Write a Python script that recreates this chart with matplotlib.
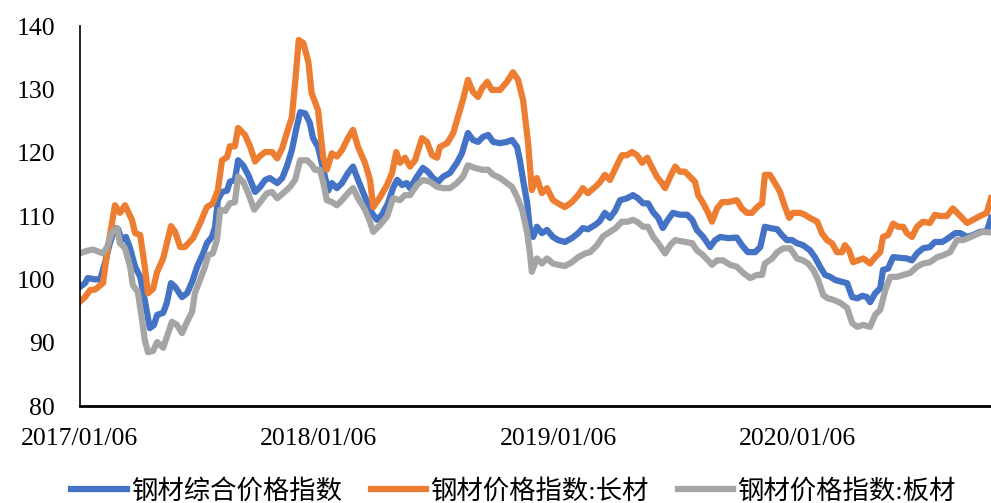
import matplotlib
matplotlib.use("Agg")
import matplotlib.pyplot as plt

# weeks counted from 2017/01/06
tick_weeks = [0, 52, 104, 156]
tick_labels = ["2017/01/06", "2018/01/06", "2019/01/06", "2020/01/06"]

# 钢材综合价格指数
comp_w = [0.0, 1.1, 1.7, 3.3, 4.4, 5.4, 6.5, 7.6, 8.3, 9.1, 10.0, 10.9, 12.0, 13.1, 14.1, 15.2, 16.1, 16.8,
          18.1, 18.9, 19.8, 20.7, 22.2, 23.3, 24.4, 25.5, 26.8, 27.6, 28.7, 29.4, 30.0, 30.9, 32.0, 32.6,
          33.7, 34.4, 35.5, 36.6, 38.1, 39.2, 40.3, 41.3, 42.9, 44.0, 45.0, 46.1, 47.0, 47.9, 49.0, 50.0,
          50.7, 51.8, 53.3, 54.0, 54.8, 55.9, 57.0, 58.3, 59.4, 60.5, 62.0, 63.5, 64.6, 65.7, 67.0, 68.1,
          69.0, 70.1, 71.1, 71.8, 73.3, 74.6, 75.7, 76.8, 77.9, 79.0, 80.5, 82.0, 83.1, 84.4, 85.5, 86.6,
          87.7, 88.8, 89.9, 91.4, 92.9, 94.0, 95.1, 95.7, 96.4, 97.3, 97.9, 98.6, 99.4, 100.5, 101.6,
          102.9, 104.0, 105.5, 107.0, 108.4, 109.4, 110.5, 112.1, 113.1, 114.2, 115.3, 116.4, 117.5,
          119.0, 120.3, 121.4, 122.5, 123.6, 124.7, 125.8, 126.8, 127.9, 129.0, 130.5, 132.1, 133.2,
          134.2, 135.6, 137.1, 138.2, 139.3, 141.0, 142.9, 144.0, 145.3, 146.9, 148.0, 149.0, 150.1,
          151.7, 152.7, 153.8, 154.9, 156.0, 157.3, 158.8, 159.9, 161.0, 162.1, 163.2, 164.3, 165.8,
          166.9, 168.0, 169.1, 170.2, 171.2, 171.9, 173.0, 174.1, 174.7, 175.8, 176.9, 178.4, 179.9,
          181.0, 182.1, 183.4, 184.9, 186.0, 187.6, 188.9, 190.4, 191.5, 193.0, 194.3, 195.8, 197.3, 198.2]
comp_v = [98.8, 99.4, 100.2, 100.0, 100.0, 102.5, 105.7, 108.1, 107.9, 106.2, 106.7, 104.9, 102.0, 100.4,
          96.7, 92.3, 92.8, 94.4, 94.7, 96.3, 99.4, 98.8, 97.2, 97.8, 99.6, 102.0, 104.1, 105.7, 106.7,
          108.3, 112.5, 113.8, 114.0, 115.4, 115.7, 118.8, 118.0, 116.5, 113.8, 114.6, 115.7, 116.0,
          115.2, 116.0, 117.8, 120.4, 123.6, 126.4, 126.2, 124.7, 122.3, 120.9, 116.2, 114.0, 115.2,
          114.4, 115.2, 116.8, 117.8, 115.7, 113.0, 110.5, 109.4, 110.2, 112.0, 114.4, 115.7, 114.9,
          115.2, 114.4, 116.2, 117.6, 117.0, 116.0, 115.4, 116.2, 116.8, 118.4, 119.9, 123.1, 122.0,
          121.7, 122.5, 122.8, 121.7, 121.5, 121.7, 122.0, 120.9, 118.8, 115.7, 112.0, 107.8, 106.7,
          108.3, 107.3, 107.8, 106.7, 106.2, 105.9, 106.5, 107.3, 108.1, 107.9, 108.6, 109.2, 110.5,
          109.7, 110.8, 112.5, 112.8, 113.3, 112.8, 112.0, 112.0, 110.6, 109.7, 108.1, 109.4, 110.5,
          110.2, 110.2, 109.4, 107.8, 106.7, 105.1, 106.2, 106.7, 106.5, 106.6, 105.4, 104.3, 104.3,
          105.1, 108.3, 108.1, 107.9, 107.0, 106.2, 106.2, 105.7, 105.4, 104.6, 103.5, 102.0, 100.7,
          100.4, 99.9, 99.6, 99.4, 97.2, 97.0, 97.4, 97.2, 96.4, 97.8, 98.6, 101.5, 101.7, 103.5, 103.4,
          103.3, 103.0, 104.1, 104.9, 105.1, 105.9, 105.9, 106.5, 107.3, 107.3, 106.7, 107.0, 107.5,
          107.6, 109.7]

# 钢材价格指数:长材
long_w = [0.0, 1.1, 2.2, 3.3, 5.0, 6.1, 7.6, 8.7, 9.8, 11.3, 12.0, 13.1, 14.1, 14.8, 15.9, 16.8, 18.1,
          19.8, 20.7, 21.8, 22.8, 24.6, 26.1, 27.6, 28.9, 30.0, 30.9, 32.0, 32.6, 33.7, 34.4, 35.9, 37.0,
          38.1, 39.2, 40.3, 41.8, 42.9, 44.0, 45.0, 46.1, 46.8, 47.6, 48.6, 49.7, 50.4, 51.8, 52.9, 53.7,
          54.8, 55.9, 57.0, 58.3, 59.4, 60.5, 62.0, 63.1, 63.8, 65.3, 66.8, 67.9, 68.8, 69.6, 70.7, 71.8,
          72.9, 74.4, 75.5, 76.6, 77.7, 78.3, 79.9, 81.2, 82.2, 83.3, 84.4, 85.5, 86.6, 87.5, 88.6, 89.6,
          91.4, 92.9, 94.2, 95.3, 96.4, 97.5, 98.3, 99.4, 100.5, 101.6, 102.9, 104.0, 105.5, 107.0, 108.4,
          109.4, 110.5, 112.1, 113.1, 114.2, 115.3, 116.4, 117.9, 119.0, 120.1, 121.2, 122.3, 123.4,
          124.5, 125.5, 126.6, 127.3, 128.4, 129.5, 130.5, 131.6, 132.7, 133.8, 134.5, 135.6, 136.6,
          137.5, 138.6, 139.7, 141.0, 142.9, 144.0, 145.1, 146.2, 147.3, 148.4, 149.0, 150.1, 151.2,
          152.3, 153.4, 154.3, 155.1, 156.7, 157.7, 158.8, 160.4, 161.4, 162.5, 163.6, 164.7, 165.8,
          166.4, 167.3, 168.2, 169.3, 170.4, 171.9, 173.0, 174.1, 174.7, 175.8, 176.9, 178.0, 179.1,
          179.9, 181.0, 182.1, 183.4, 184.9, 186.0, 187.1, 188.6, 189.9, 191.5, 193.0, 194.3, 195.8,
          197.3, 198.2]
long_v = [96.5, 97.2, 98.3, 98.4, 99.4, 105.1, 111.7, 110.5, 111.7, 109.4, 107.3, 107.0, 102.0, 97.8,
          98.5, 101.2, 103.3, 108.4, 107.5, 105.1, 105.1, 106.5, 108.8, 111.4, 112.0, 114.1, 118.8,
          119.3, 121.0, 121.0, 123.9, 122.8, 121.0, 118.6, 119.5, 120.1, 120.1, 119.1, 120.7, 123.1,
          125.6, 131.0, 137.8, 137.3, 134.3, 129.4, 126.7, 119.3, 117.3, 119.9, 119.4, 120.4, 122.3,
          123.6, 120.9, 118.4, 115.7, 111.4, 113.0, 114.9, 116.8, 120.1, 118.4, 119.2, 117.8, 118.8,
          122.3, 121.7, 119.6, 119.2, 120.9, 121.5, 123.1, 125.6, 128.3, 131.5, 129.6, 128.8, 130.2,
          131.2, 129.9, 129.9, 131.2, 132.7, 131.5, 128.3, 121.5, 114.1, 116.0, 113.6, 114.4, 112.5,
          112.0, 111.4, 112.2, 113.3, 114.4, 113.6, 114.6, 115.3, 116.5, 115.7, 117.4, 119.6, 119.6,
          120.1, 119.6, 118.4, 119.2, 117.6, 116.2, 115.2, 114.4, 116.2, 117.8, 117.0, 117.0, 116.2,
          115.4, 113.3, 112.0, 110.6, 109.1, 111.2, 112.2, 112.2, 112.5, 111.2, 110.5, 110.5, 111.4,
          112.0, 116.5, 116.5, 115.2, 113.8, 111.4, 109.7, 110.5, 110.5, 110.2, 109.7, 109.1, 107.3,
          106.2, 105.7, 104.3, 104.3, 105.4, 104.6, 102.7, 103.0, 103.3, 102.5, 103.5, 104.3, 106.7,
          107.0, 108.8, 108.3, 108.3, 107.3, 106.7, 108.3, 109.1, 108.9, 110.2, 110.0, 110.0, 111.2,
          110.0, 108.9, 109.4, 110.0, 110.5, 112.8]

# 钢材价格指数:板材
flat_w = [0.0, 1.5, 2.8, 3.9, 5.0, 5.9, 7.0, 8.1, 8.7, 9.8, 10.9, 11.5, 12.6, 13.5, 14.1, 14.8, 15.9, 16.8,
          18.1, 18.9, 20.0, 21.1, 22.2, 23.3, 24.4, 25.0, 26.1, 27.2, 27.9, 28.9, 29.8, 30.5, 31.6, 32.6,
          33.7, 34.4, 35.5, 36.6, 37.9, 39.2, 40.7, 41.8, 42.9, 44.2, 45.7, 46.8, 47.9, 49.4, 50.5, 51.1,
          52.2, 52.9, 53.7, 54.8, 55.9, 57.0, 58.3, 59.4, 60.5, 62.0, 63.1, 63.8, 65.3, 66.8, 68.1, 69.6,
          70.7, 71.8, 73.3, 74.6, 76.2, 77.7, 79.0, 80.5, 82.0, 83.3, 84.4, 85.9, 87.5, 88.8, 89.9, 91.4,
          92.9, 94.0, 95.1, 96.2, 97.3, 97.9, 98.3, 99.4, 100.5, 101.6, 102.9, 104.0, 105.5, 107.0, 108.4,
          109.9, 111.0, 112.5, 113.8, 115.3, 116.4, 117.9, 119.2, 120.3, 121.4, 122.5, 123.6, 124.7,
          125.8, 127.3, 128.4, 129.5, 131.0, 133.2, 134.2, 135.6, 137.5, 138.6, 139.9, 141.4, 142.9,
          144.3, 145.8, 147.3, 148.4, 149.0, 150.6, 151.7, 153.0, 154.5, 156.0, 157.3, 158.4, 159.5,
          160.6, 161.7, 162.7, 163.8, 165.4, 166.9, 168.0, 169.1, 170.4, 171.9, 173.0, 174.1, 175.2,
          176.3, 177.8, 179.1, 180.6, 182.1, 183.4, 184.9, 186.5, 187.8, 189.3, 190.8, 192.1, 193.2,
          194.7, 196.3, 198.2]
flat_v = [104.1, 104.5, 104.7, 104.4, 104.1, 105.1, 107.5, 108.1, 105.7, 104.9, 102.0, 99.1, 98.0, 93.6,
          90.4, 88.5, 88.7, 90.1, 89.2, 90.9, 93.3, 92.8, 91.5, 93.3, 94.9, 97.8, 99.9, 102.0, 103.8,
          104.1, 106.2, 111.0, 110.8, 112.0, 112.2, 116.2, 115.4, 113.6, 111.0, 112.2, 113.6, 113.8,
          112.8, 113.6, 114.6, 115.7, 118.8, 118.8, 118.0, 117.3, 117.3, 115.4, 112.5, 112.2, 111.7,
          112.5, 113.6, 114.4, 112.8, 111.0, 109.1, 107.5, 108.6, 109.9, 112.8, 112.5, 113.3, 113.3,
          114.9, 115.7, 115.4, 114.6, 114.4, 114.4, 115.2, 116.2, 118.0, 117.6, 117.3, 117.3, 116.5,
          116.0, 115.2, 114.6, 113.0, 111.0, 107.3, 104.1, 101.2, 103.3, 102.5, 103.3, 102.5, 102.3,
          102.1, 102.7, 103.5, 104.1, 104.3, 105.4, 106.8, 107.5, 108.0, 109.1, 109.1, 109.4, 109.0,
          108.3, 108.3, 106.7, 105.7, 104.1, 105.4, 106.2, 106.0, 105.7, 104.6, 103.8, 102.3, 103.0,
          103.0, 102.3, 102.0, 101.0, 100.2, 100.7, 100.7, 102.5, 103.3, 104.3, 104.9, 104.9, 103.3,
          103.0, 102.5, 101.5, 99.9, 97.5, 97.0, 96.8, 96.3, 95.5, 93.1, 92.5, 92.8, 92.5, 94.4, 95.2,
          98.3, 100.4, 100.4, 100.7, 101.0, 102.0, 102.5, 102.7, 103.5, 103.8, 104.3, 106.2, 106.2,
          106.5, 107.0, 107.5, 107.4]

plt.rcParams['font.family'] = ['Liberation Serif', 'Noto Sans CJK SC']

fig = plt.figure(figsize=(9.91, 5.03), dpi=100)
ax = fig.add_axes([0.0807, 0.1928, 0.9193, 0.7555])

lw = 4.5
ax.plot(comp_w, comp_v, color='#4472C4', lw=lw, solid_joinstyle='round', label='钢材综合价格指数')
ax.plot(long_w, long_v, color='#ED7D31', lw=lw, solid_joinstyle='round', label='钢材价格指数:长材')
ax.plot(flat_w, flat_v, color='#A5A5A5', lw=lw, solid_joinstyle='round', label='钢材价格指数:板材')

ax.set_xlim(0, 198.2)
ax.set_ylim(80, 140)
ax.set_yticks(range(80, 141, 10))
ax.set_xticks(tick_weeks)
ax.set_xticklabels(tick_labels)
ax.tick_params(axis='both', length=0, labelsize=18.5)
ax.tick_params(axis='y', pad=18)
ax.tick_params(axis='x', pad=16)

for s in ['top', 'right']:
    ax.spines[s].set_visible(False)
ax.spines['left'].set_linewidth(1.2)
ax.spines['bottom'].set_linewidth(2)

fig.legend(loc='center', bbox_to_anchor=(0.518, 0.024), ncol=3, frameon=False,
           fontsize=19, handlelength=2.1, handletextpad=0.15, columnspacing=1.1)

fig.savefig('out.png', dpi=100)
